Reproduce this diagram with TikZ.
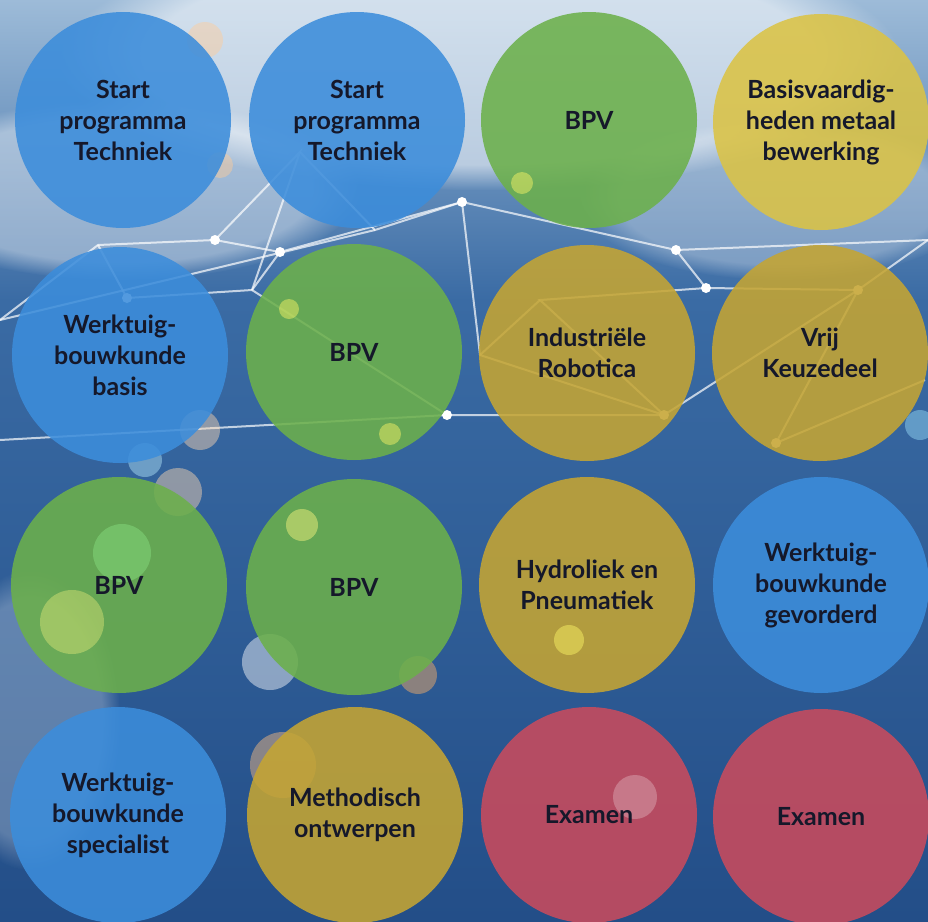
\documentclass[tikz,border=0pt]{standalone}
\usepackage{fontspec}
\setmainfont{Lato}
\usetikzlibrary{positioning,fadings}

\definecolor{bgtop}{HTML}{9DBBD8}
\definecolor{bgmid}{HTML}{3A6BA4}
\definecolor{bgbot}{HTML}{234E88}
\definecolor{kblue}{HTML}{3C8DDB}
\definecolor{kgreen}{HTML}{6CB04B}
\definecolor{kyellow}{HTML}{DBC345}
\definecolor{kgold}{HTML}{C5A533}
\definecolor{kred}{HTML}{C94B5D}
\definecolor{ktext}{HTML}{15182A}

\tikzset{
  module/.style={circle,minimum size=216pt,inner sep=0pt,fill opacity=0.88},
  modtext/.style={text=ktext,align=center,
    font=\fontsize{25}{31}\selectfont\bfseries},
  netline/.style={draw=white,draw opacity=0.7,line width=2pt},
  netdot/.style={circle,fill=white,inner sep=0pt,minimum size=10pt},
  bokeh/.style={circle,inner sep=0pt,fill opacity=0.45},
  haze/.style={fill=white,path fading=circle with fuzzy edge 20 percent}
}

\begin{document}
\begin{tikzpicture}[x=1pt,y=-1pt]
\useasboundingbox (0,0) rectangle (928,921);
% background
\shade[top color=bgtop,bottom color=bgmid] (0,0) rectangle (928,300);
\shade[top color=bgmid,bottom color=bgbot] (0,300) rectangle (928,921);
\fill[haze,opacity=0.55] (480,60) ellipse (420 and 130);
\fill[haze,opacity=0.4] (120,190) ellipse (240 and 90);
\fill[haze,opacity=0.3] (780,200) ellipse (200 and 80);
\fill[haze,opacity=0.25] (30,720) ellipse (90 and 150);

% network
\coordinate (n1) at (98,245);
\coordinate (n2) at (215,240);
\coordinate (n3) at (280,252);
\coordinate (n4) at (252,290);
\coordinate (n5) at (300,152);
\coordinate (n6) at (462,202);
\coordinate (n7) at (676,250);
\coordinate (n8) at (706,288);
\coordinate (n9) at (447,415);
\coordinate (n10) at (664,415);
\coordinate (n11) at (858,290);
\coordinate (n12) at (776,443);
\coordinate (n13) at (925,380);
\coordinate (n14) at (127,298);
\coordinate (n15) at (0,320);
\coordinate (n16) at (540,300);
\coordinate (n17) at (480,355);
\coordinate (n18) at (928,240);
\coordinate (n19) at (0,440);
\coordinate (n20) at (375,230);

\path[netline] (n15) -- (n1) -- (n2) -- (n3) -- (n4);
\path[netline] (n2) -- (n5) -- (n4);
\path[netline] (n5) -- (n20) -- (n6) -- (n7) -- (n8) -- (n11) -- (n18);
\path[netline] (n3) -- (n6);
\path[netline] (n6) -- (n17) -- (n10) -- (n16) -- (n8);
\path[netline] (n16) -- (n17);
\path[netline] (n4) -- (n9) -- (n10) -- (n11) -- (n12) -- (n13);
\path[netline] (n14) -- (n1);
\path[netline] (n14) -- (n4);
\path[netline] (n19) -- (n9);
\path[netline] (n15) -- (n20);
\path[netline] (n7) -- (n18);

\foreach \n in {n2,n3,n6,n7,n8,n9,n10,n11,n12,n14}
  \node[netdot] at (\n) {};

% bokeh
\node[bokeh,fill=orange!40,minimum size=36pt] (b1) at (205,40) {};
\node[bokeh,fill=orange!40,minimum size=26pt] (b2) at (220,165) {};
\node[bokeh,fill=orange!30,minimum size=40pt] (b3) at (200,430) {};
\node[bokeh,fill=cyan!30,minimum size=34pt] (b4) at (145,460) {};
\node[bokeh,fill=orange!30,minimum size=48pt] (b5) at (178,492) {};
\node[bokeh,fill=white,minimum size=56pt] (b6) at (270,662) {};
\node[bokeh,fill=orange!60,minimum size=38pt] (b7) at (418,675) {};
\node[bokeh,fill=orange!50,minimum size=66pt] (b8) at (283,765) {};
\node[bokeh,fill=cyan!40,minimum size=30pt] (b9) at (920,425) {};

% modules
\node[module,fill=kblue] (r1c1) at (123,120) {};
\node[module,fill=kblue] (r1c2) at (357,120) {};
\node[module,fill=kgreen] (r1c3) at (589,120) {};
\node[module,fill=kyellow] (r1c4) at (821,122) {};

\node[module,fill=kblue] (r2c1) at (120,355) {};
\node[module,fill=kgreen] (r2c2) at (354,352) {};
\node[module,fill=kgold] (r2c3) at (587,353) {};
\node[module,fill=kgold] (r2c4) at (820,353) {};

\node[module,fill=kgreen] (r3c1) at (119,585) {};
\node[module,fill=kgreen] (r3c2) at (354,587) {};
\node[module,fill=kgold] (r3c3) at (587,585) {};
\node[module,fill=kblue] (r3c4) at (821,585) {};

\node[module,fill=kblue] (r4c1) at (118,815) {};
\node[module,fill=kgold] (r4c2) at (355,815) {};
\node[module,fill=kred] (r4c3) at (589,815) {};
\node[module,fill=kred] (r4c4) at (821,817) {};

% light spots on the circles
\node[bokeh,fill=yellow!60,minimum size=30pt] (s1) at (569,640) {};
\node[bokeh,fill=yellow!50,minimum size=32pt] (s2) at (302,525) {};
\node[bokeh,fill=white,minimum size=44pt,fill opacity=0.25] (s3) at (635,797) {};
\node[bokeh,fill=yellow!50,minimum size=64pt,fill opacity=0.35] (s4) at (72,622) {};
\node[bokeh,fill=green!40,minimum size=58pt,fill opacity=0.3] (s5) at (122,553) {};
\node[bokeh,fill=yellow!60,minimum size=22pt] (s6) at (522,183) {};
\node[bokeh,fill=yellow!60,minimum size=20pt] (s7) at (289,309) {};
\node[bokeh,fill=yellow!60,minimum size=22pt] (s8) at (390,434) {};

% labels
\node[modtext] at (r1c1) {Start\\programma\\Techniek};
\node[modtext] at (r1c2) {Start\\programma\\Techniek};
\node[modtext] at (r1c3) {BPV};
\node[modtext] at (r1c4) {Basisvaardig-\\heden metaal\\bewerking};

\node[modtext] at (r2c1) {Werktuig-\\bouwkunde\\basis};
\node[modtext] at (r2c2) {BPV};
\node[modtext] at (r2c3) {Industriële\\Robotica};
\node[modtext] at (r2c4) {Vrij\\Keuzedeel};

\node[modtext] at (r3c1) {BPV};
\node[modtext] at (r3c2) {BPV};
\node[modtext] at (r3c3) {Hydroliek en\\Pneumatiek};
\node[modtext] at (r3c4) {Werktuig-\\bouwkunde\\gevorderd};

\node[modtext] at (r4c1) {Werktuig-\\bouwkunde\\specialist};
\node[modtext] at (r4c2) {Methodisch\\ontwerpen};
\node[modtext] at (r4c3) {Examen};
\node[modtext] at (r4c4) {Examen};
\end{tikzpicture}
\end{document}
